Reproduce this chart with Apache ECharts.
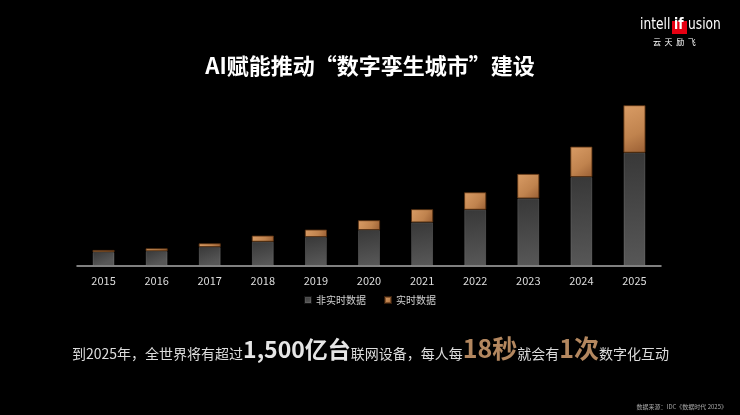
<!DOCTYPE html>
<html>
<head>
<meta charset="utf-8">
<script src="https://cdn.jsdelivr.net/npm/echarts@6/dist/echarts.min.js"></script>
<style>
  html, body { margin: 0; padding: 0; background: #000; }
  #chart { width: 740px; height: 415px; }
</style>
</head>
<body>
<div id="chart"></div>
<script>
// 单位 ZB，按图中柱高估算
var years = ['2015', '2016', '2017', '2018', '2019', '2020', '2021', '2022', '2023', '2024', '2025']
var nonRealtime = [15.2, 16.3, 20.7, 26.5, 31.6, 39.2, 47.6, 61.3, 73.7, 96.9, 123.4]
var realtime = [2.2, 2.9, 4.0, 6.5, 8.0, 10.6, 14.2, 18.9, 26.5, 33.0, 51.6]
var seriesNames = ['非实时数据', '实时数据']

var chart = echarts.init(document.getElementById('chart'))

var greyFill = new echarts.graphic.LinearGradient(0, 0, 0.3, 1, [
  { offset: 0, color: '#383838' },
  { offset: 1, color: '#575757' }
])
var orangeFill = new echarts.graphic.LinearGradient(0, 0, 1, 1, [
  { offset: 0, color: '#d99c65' },
  { offset: 0.6, color: '#c0834e' },
  { offset: 1, color: '#9a5f34' }
])
var logoFont = 'DejaVu Sans Condensed, Liberation Sans Narrow, Open Sans'

chart.setOption({
  backgroundColor: '#000',
  textStyle: { fontFamily: 'Noto Sans CJK SC' },
  title: [{
    text: 'AI赋能推动“数字孪生城市”建设',
    left: 'center',
    top: 50,
    textStyle: { color: '#fff', fontSize: 22, fontWeight: 'bold' }
  }, {
    text: '{n|到2025年，全世界将有超过}{w|1,500亿台}{n|联网设备，每人每}{g|18秒}{n|就会有}{g|1次}{n|数字化互动}',
    left: 67,
    top: 326,
    textStyle: {
      fontWeight: 'normal',
      rich: {
        n: { color: '#dcdcdc', fontSize: 14, fontWeight: 'normal', verticalAlign: 'bottom', lineHeight: 30 },
        w: { color: '#e6e6e6', fontSize: 23, fontWeight: 'bold', verticalAlign: 'bottom', lineHeight: 30 },
        g: { color: '#b3875f', fontSize: 25, fontWeight: 'bold', verticalAlign: 'bottom', lineHeight: 30 }
      }
    }
  }, {
    text: '数据来源：IDC《数据时代 2025》',
    right: 8,
    top: 399,
    textStyle: { color: '#aaa', fontSize: 6, fontWeight: 'normal' }
  }],
  legend: {
    data: seriesNames,
    left: 'center',
    top: 290,
    icon: 'rect',
    itemWidth: 6,
    itemHeight: 6,
    itemGap: 18,
    textStyle: { color: '#cfcfcf', fontSize: 10 }
  },
  grid: { left: 77, right: 79, top: 82.3, bottom: 149 },
  xAxis: {
    type: 'category',
    data: years,
    axisLine: { lineStyle: { color: '#aaa', width: 1.5 } },
    axisTick: { show: false },
    axisLabel: { color: '#ddd', fontSize: 11, margin: 9 }
  },
  yAxis: {
    type: 'value',
    min: 0,
    max: 200,
    show: false,
    splitLine: { show: false }
  },
  series: [{
    name: seriesNames[0],
    type: 'bar',
    stack: 'total',
    barWidth: 22,
    itemStyle: { color: greyFill, borderColor: 'rgba(255,255,255,0.08)', borderWidth: 1 },
    data: nonRealtime
  }, {
    name: seriesNames[1],
    type: 'bar',
    stack: 'total',
    barWidth: 22,
    itemStyle: { color: orangeFill, borderColor: 'rgba(90,50,20,0.6)', borderWidth: 0.8 },
    data: realtime
  }],
  graphic: [{
    type: 'text',
    left: 640,
    top: 17,
    scaleX: 0.85,
    style: { text: 'intell', fill: '#fff', fontSize: 16, fontFamily: logoFont }
  }, {
    type: 'rect',
    left: 672,
    top: 21,
    shape: { width: 15, height: 13 },
    style: { fill: '#e60012' }
  }, {
    type: 'text',
    left: 674,
    top: 17,
    scaleX: 0.85,
    style: { text: 'if', fill: '#fff', fontSize: 16, fontFamily: logoFont, fontWeight: 'bold' }
  }, {
    type: 'text',
    left: 688,
    top: 17,
    scaleX: 0.85,
    style: { text: 'usion', fill: '#fff', fontSize: 16, fontFamily: logoFont }
  }, {
    type: 'text',
    left: 653,
    top: 38,
    style: { text: '云  天  励  飞', fill: '#fff', fontSize: 8, fontFamily: 'Noto Sans CJK SC' }
  }]
})
</script>
</body>
</html>
